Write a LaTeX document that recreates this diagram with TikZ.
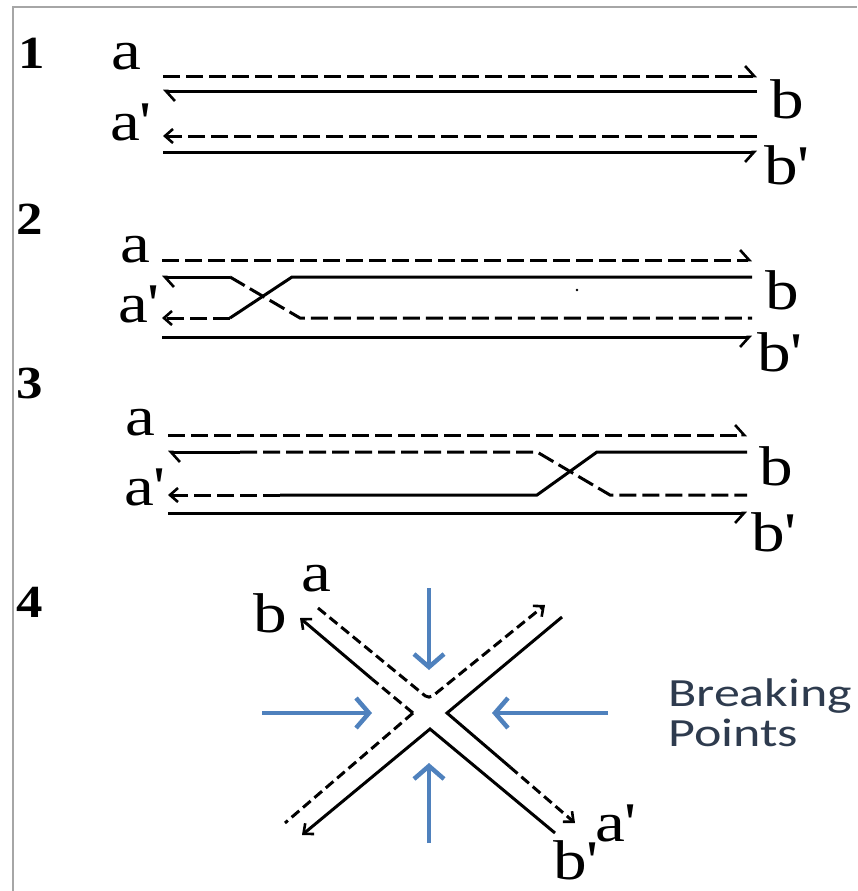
\documentclass[tikz,border=0pt]{standalone}
\usepackage{fontspec}
\setmainfont{Liberation Serif}
\newfontfamily\calloutfont{Carlito}
\usetikzlibrary{arrows.meta}
\definecolor{pressblue}{HTML}{4F81BD}
\definecolor{calloutink}{HTML}{2E3B4E}
\definecolor{framegray}{HTML}{A6A6A6}
\tikzset{
  strand/.style={line width=3pt, black, line cap=butt},
  dstrand/.style={strand, dash pattern=on 17pt off 6pt},
  xdstrand/.style={strand, dash pattern=on 10pt off 5pt},
  harpend/.style={-{Straight Barb[harpoon, length=9pt, width=20pt, line width=2.6pt]}},
  harpendsw/.style={-{Straight Barb[harpoon, swap, length=9pt, width=20pt, line width=2.6pt]}},
  fullend/.style={-{Straight Barb[length=8pt, width=14pt, line width=2.6pt]}},
  lbl/.style={inner sep=0pt, xscale=1.2, font=\fontsize{56}{56}\selectfont},
  num/.style={inner sep=0pt, xscale=1.15, font=\bfseries\fontsize{46}{46}\selectfont},
  press/.style={line width=4.5pt, pressblue, -{Straight Barb[length=13pt, width=30pt, line width=4.5pt]}},
  callout/.style={inner sep=0pt, anchor=base west, xscale=1.3, text=calloutink, font=\calloutfont\fontsize{40}{40}\selectfont}
}
\begin{document}
\begin{tikzpicture}[x=1pt, y=-1pt]
\useasboundingbox (0,0) rectangle (857,891);
% page frame
\coordinate (frBL) at (13,891);
\coordinate (frTL) at (13,7);
\coordinate (frTR) at (857,7);
\draw[framegray, line width=1.2pt] (frBL) -- (frTL) -- (frTR);

% ---------- 1: intact duplexes ----------
\node[num] (n1) at (32,53) {1};
\node[lbl] (p1a) at (126,57) {a};
\node[lbl] (p1a') at (131,122) {a\textquotesingle};
\node[lbl] (p1b) at (787,99) {b};
\node[lbl] (p1b') at (787,165) {b\textquotesingle};
\coordinate (p1L1) at (163,76);  \coordinate (p1R1) at (757,76);
\coordinate (p1L2) at (163,91);  \coordinate (p1R2) at (757,91);
\coordinate (p1L3) at (163,136); \coordinate (p1R3) at (757,136);
\coordinate (p1L4) at (163,152); \coordinate (p1R4) at (757,152);
\draw[dstrand, harpend] (p1L1) -- (p1R1);
\draw[strand, harpend] (p1R2) -- (p1L2);
\draw[dstrand, fullend] (p1R3) -- (p1L3);
\draw[strand, harpendsw] (p1L4) -- (p1R4);

% ---------- 2: exchange near the left end ----------
\node[num] (n2) at (30,219) {2};
\node[lbl] (p2a) at (135,250) {a};
\node[lbl] (p2a') at (139,304) {a\textquotesingle};
\node[lbl] (p2b) at (782,290) {b};
\node[lbl] (p2b') at (780,352) {b\textquotesingle};
\coordinate (p2L1) at (162,260); \coordinate (p2R1) at (752,260);
\coordinate (p2L2) at (162,277); \coordinate (p2R2) at (752,277);
\coordinate (p2L3) at (162,318); \coordinate (p2R3) at (752,318);
\coordinate (p2L4) at (162,337); \coordinate (p2R4) at (752,337);
\coordinate (p2s1) at (292,277); \coordinate (p2s2) at (230,318);
\coordinate (p2d1) at (230,277); \coordinate (p2d2) at (300,318);
\draw[dstrand, harpend] (p2L1) -- (p2R1);
\draw[strand] (p2R2) -- (p2s1) -- (p2s2);
\draw[dstrand, fullend] (p2s2) -- (p2L3);
\draw[strand, harpend] (p2d1) -- (p2L2);
\draw[dstrand] (p2d1) -- (p2d2) -- (p2R3);
\draw[strand, harpendsw] (p2L4) -- (p2R4);
\fill (577,290) circle (1.3pt);

% ---------- 3: exchange near the right end ----------
\node[num] (n3) at (30,383) {3};
\node[lbl] (p3a) at (140,423) {a};
\node[lbl] (p3a') at (145,487) {a\textquotesingle};
\node[lbl] (p3b) at (776,466) {b};
\node[lbl] (p3b') at (774,532) {b\textquotesingle};
\coordinate (p3L1) at (168,435); \coordinate (p3R1) at (747,435);
\coordinate (p3L2) at (168,452); \coordinate (p3R2) at (747,452);
\coordinate (p3L3) at (168,495); \coordinate (p3R3) at (747,495);
\coordinate (p3L4) at (168,513); \coordinate (p3R4) at (747,513);
\coordinate (p3d0) at (240,452); \coordinate (p3d1) at (537,452); \coordinate (p3d2) at (610,495);
\coordinate (p3s1) at (597,452); \coordinate (p3s2) at (537,495); \coordinate (p3s3) at (280,495);
\draw[dstrand, harpend] (p3L1) -- (p3R1);
\draw[strand, harpend] (p3d0) -- (p3L2);
\draw[dstrand] (p3d0) -- (p3d1) -- (p3d2) -- (p3R3);
\draw[strand] (p3R2) -- (p3s1) -- (p3s2) -- (p3s3);
\draw[dstrand, fullend] (p3s3) -- (p3L3);
\draw[strand, harpendsw] (p3L4) -- (p3R4);

% ---------- 4: Holliday junction ----------
\node[num] (n4) at (30,602) {4};
\node[lbl] (p4a) at (316,579) {a};
\node[lbl] (p4b) at (270,613) {b};
\node[lbl] (p4a') at (616,823) {a\textquotesingle};
\node[lbl] (p4b') at (576,860) {b\textquotesingle};
\coordinate (vT) at (429,699);
\coordinate (vB) at (430,729);
\coordinate (vL) at (413,713);
\coordinate (vR) at (447,713);
\coordinate (eTnw) at (318,608); \coordinate (eTne) at (545,605);
\coordinate (eLnw) at (300,618); \coordinate (eLsw) at (285,823);
\coordinate (eBsw) at (302,835); \coordinate (eBse) at (555,833);
\coordinate (eRne) at (562,617); \coordinate (eRse) at (575,823);
\coordinate (mLnw) at (372,679);
\coordinate (mRse) at (510,767);
\draw[xdstrand, fullend, rounded corners=5pt] (eTnw) -- (vT) -- (eTne);
\draw[xdstrand] (vL) -- (mLnw);
\draw[strand, fullend] (mLnw) -- (eLnw);
\draw[xdstrand] (vL) -- (eLsw);
\draw[strand, fullend] (eBse) -- (vB) -- (eBsw);
\draw[strand] (eRne) -- (vR) -- (mRse);
\draw[xdstrand, fullend] (mRse) -- (eRse);

% breaking points
\coordinate (bpTs) at (429,588); \coordinate (bpTe) at (429,670);
\coordinate (bpLs) at (262,713); \coordinate (bpLe) at (372,713);
\coordinate (bpRs) at (608,713); \coordinate (bpRe) at (492,713);
\coordinate (bpBs) at (429,843); \coordinate (bpBe) at (429,763);
\draw[press] (bpTs) -- (bpTe);
\draw[press] (bpLs) -- (bpLe);
\draw[press] (bpRs) -- (bpRe);
\draw[press] (bpBs) -- (bpBe);
\node[callout] (brk) at (668,706) {Breaking};
\node[callout] (pts) at (668,746) {Points};
\end{tikzpicture}
\end{document}
